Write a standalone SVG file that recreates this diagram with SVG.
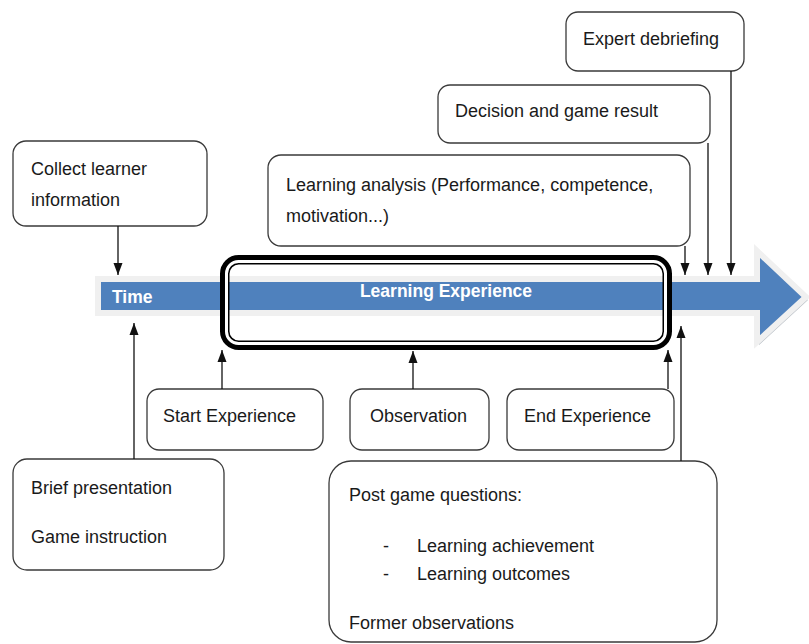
<svg xmlns="http://www.w3.org/2000/svg" width="809" height="644" viewBox="0 0 809 644">
<style>
.box{fill:#fff;stroke:#3a3a3a;stroke-width:1.3}
.t{font-family:"Liberation Sans",Arial,sans-serif;font-size:18px;fill:#1a1a1a}
.w{font-family:"Liberation Sans",Arial,sans-serif;font-size:17.5px;font-weight:bold;fill:#fff}
.c{stroke:#111;stroke-width:1.3;fill:none;marker-end:url(#ah)}
</style>
<defs>
<marker id="ah" viewBox="0 0 12 10" refX="12" refY="5" markerWidth="12" markerHeight="10" markerUnits="userSpaceOnUse" orient="auto">
<path d="M0,0.5 L12,5 L0,9.5 Z" fill="#111"/>
</marker>
</defs>
<rect width="809" height="644" fill="#fff"/>
<g id="timeline">
<path d="M98,282 L759,282 L759,255 L808,300 L759,345 L759,316 L98,316 Z" fill="#9aa3ad" opacity="0.7"/>
<path d="M98,279 L757,279 L757,251 L806,297 L757,342 L757,313 L98,313 Z" fill="#4f81bd" stroke="#f0f0f0" stroke-width="6" stroke-linejoin="miter"/>
<text class="w" x="112" y="303">Time</text>
<text class="w" x="446" y="297" text-anchor="middle">Learning Experience</text>
</g>
<g id="learning-experience-frame">
<rect x="224.75" y="259.75" width="442.5" height="85.5" rx="14" fill="none" stroke="#000" stroke-width="9.5"/>
<rect x="226.5" y="261.5" width="439" height="82" rx="12" fill="none" stroke="#fff" stroke-width="3"/>
</g>
<g id="collect">
<rect class="box" x="13" y="141" width="194" height="85" rx="13"/>
<text class="t" x="31" y="175">Collect learner</text>
<text class="t" x="31" y="206">information</text>
</g>
<g id="learning-analysis">
<rect class="box" x="268" y="155" width="422" height="91" rx="13"/>
<text class="t" x="286" y="191">Learning analysis (Performance, competence,</text>
<text class="t" x="286" y="222">motivation...)</text>
</g>
<g id="decision">
<rect class="box" x="438" y="85" width="272" height="58" rx="12"/>
<text class="t" x="455" y="117">Decision and game result</text>
</g>
<g id="expert">
<rect class="box" x="566" y="12" width="178" height="59" rx="12"/>
<text class="t" x="583" y="45">Expert debriefing</text>
</g>
<g id="start">
<rect class="box" x="147" y="389" width="176" height="61" rx="12"/>
<text class="t" x="163" y="422">Start Experience</text>
</g>
<g id="observation">
<rect class="box" x="350" y="389" width="139" height="61" rx="12"/>
<text class="t" x="370" y="422">Observation</text>
</g>
<g id="end">
<rect class="box" x="507" y="389" width="167" height="61" rx="12"/>
<text class="t" x="524" y="422">End Experience</text>
</g>
<g id="brief">
<rect class="box" x="13" y="459" width="211" height="111" rx="14"/>
<text class="t" x="31" y="494">Brief presentation</text>
<text class="t" x="31" y="543">Game instruction</text>
</g>
<g id="post-game">
<rect class="box" x="329" y="461" width="388" height="181" rx="22"/>
<text class="t" x="349" y="501">Post game questions:</text>
<text class="t" x="383" y="552">-</text>
<text class="t" x="417" y="552">Learning achievement</text>
<text class="t" x="383" y="580">-</text>
<text class="t" x="417" y="580">Learning outcomes</text>
<text class="t" x="349" y="629">Former observations</text>
</g>
<g id="connectors">
<path class="c" d="M118,226 L118,275"/>
<path class="c" d="M685,246 L685,275"/>
<path class="c" d="M708,143 L708,275"/>
<path class="c" d="M731,71 L731,275"/>
<path class="c" d="M134,459 L134,323"/>
<path class="c" d="M222,389 L222,350"/>
<path class="c" d="M413,389 L413,351"/>
<path class="c" d="M668,389 L668,350"/>
<path class="c" d="M681,461 L681,326"/>
</g>
</svg>
